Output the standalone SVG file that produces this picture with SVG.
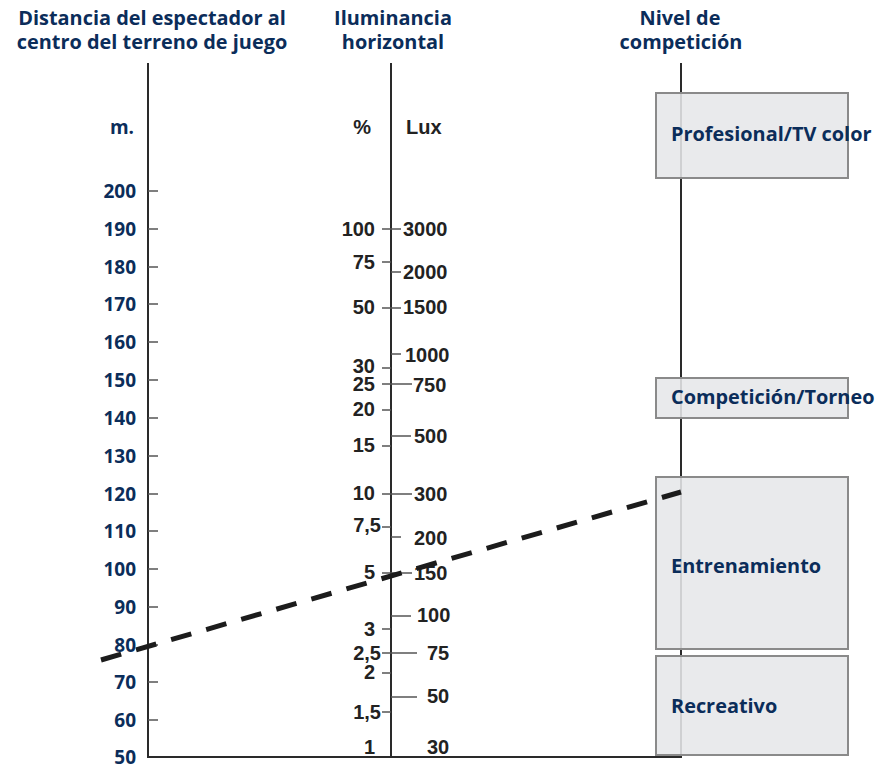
<svg xmlns="http://www.w3.org/2000/svg" width="882" height="769" viewBox="0 0 882 769">
<style>
.hd{font-family:"Open Sans","DejaVu Sans",sans-serif;font-weight:700;font-size:19.9px;fill:#0b2d5a;text-anchor:middle}
.ln{font-family:"Open Sans","DejaVu Sans",sans-serif;font-weight:700;font-size:19px;fill:#0b2d5a;text-anchor:end}
.mn{font-family:"Liberation Sans",Arial,sans-serif;font-weight:700;font-size:20px;fill:#222}
.pc{text-anchor:end}
.bx{fill:#e6e7e9;fill-opacity:0.88;stroke:#8a8a8a;stroke-width:2}
.bl{font-family:"Open Sans","DejaVu Sans",sans-serif;font-weight:700;font-size:19.9px;fill:#0b2d5a}
.ax{stroke:#2a2a2a;stroke-width:2;fill:none}
.tk{stroke:#555;stroke-width:1.5}
</style>
<g id="headers">
<text class="hd" x="152" y="25">Distancia del espectador al</text>
<text class="hd" x="152" y="49">centro del terreno de juego</text>
<text class="hd" x="393" y="25">Iluminancia</text>
<text class="hd" x="393" y="49">horizontal</text>
<text class="hd" x="680" y="25">Nivel de</text>
<text class="hd" x="681" y="49">competición</text>
</g>
<g id="axes">
<path class="ax" d="M148,63 V757 H681 V63 M391,63 V757"/>
</g>
<g id="left-scale">
<text class="ln" x="134" y="134">m.</text>
<g class="tk">
<line x1="148" y1="191" x2="158" y2="191"/><line x1="148" y1="229" x2="158" y2="229"/>
<line x1="148" y1="267" x2="158" y2="267"/><line x1="148" y1="304" x2="158" y2="304"/>
<line x1="148" y1="342" x2="158" y2="342"/><line x1="148" y1="380" x2="158" y2="380"/>
<line x1="148" y1="418" x2="158" y2="418"/><line x1="148" y1="456" x2="158" y2="456"/>
<line x1="148" y1="494" x2="158" y2="494"/><line x1="148" y1="531" x2="158" y2="531"/>
<line x1="148" y1="569" x2="158" y2="569"/><line x1="148" y1="607" x2="158" y2="607"/>
<line x1="148" y1="645" x2="158" y2="645"/><line x1="148" y1="682" x2="158" y2="682"/>
<line x1="148" y1="720" x2="158" y2="720"/>
</g>
<text class="ln" x="136" y="198">200</text>
<text class="ln" x="136" y="236">190</text>
<text class="ln" x="136" y="274">180</text>
<text class="ln" x="136" y="311">170</text>
<text class="ln" x="136" y="349">160</text>
<text class="ln" x="136" y="387">150</text>
<text class="ln" x="136" y="425">140</text>
<text class="ln" x="136" y="463">130</text>
<text class="ln" x="136" y="501">120</text>
<text class="ln" x="136" y="538">110</text>
<text class="ln" x="136" y="576">100</text>
<text class="ln" x="136" y="614">90</text>
<text class="ln" x="136" y="652">80</text>
<text class="ln" x="136" y="689">70</text>
<text class="ln" x="136" y="727">60</text>
<text class="ln" x="136" y="764">50</text>
</g>
<g id="middle-scale">
<g class="tk">
<line x1="382" y1="229" x2="401" y2="229"/>
<line x1="382" y1="262" x2="391" y2="262"/>
<line x1="391" y1="272" x2="401" y2="272"/>
<line x1="382" y1="308" x2="401" y2="308"/>
<line x1="391" y1="354" x2="401" y2="354"/>
<line x1="382" y1="368" x2="391" y2="368"/>
<line x1="382" y1="384" x2="412" y2="384"/>
<line x1="382" y1="410" x2="391" y2="410"/>
<line x1="391" y1="436" x2="411" y2="436"/>
<line x1="382" y1="446" x2="391" y2="446"/>
<line x1="382" y1="494" x2="412" y2="494"/>
<line x1="382" y1="527" x2="391" y2="527"/>
<line x1="391" y1="537" x2="401" y2="537"/>
<line x1="382" y1="573" x2="412" y2="573"/>
<line x1="391" y1="616" x2="411" y2="616"/>
<line x1="382" y1="629" x2="391" y2="629"/>
<line x1="382" y1="653" x2="417" y2="653"/>
<line x1="382" y1="673" x2="391" y2="673"/>
<line x1="391" y1="697" x2="417" y2="697"/>
<line x1="382" y1="712" x2="391" y2="712"/>
</g>
<text class="mn pc" x="371" y="134">%</text>
<text class="mn" x="406" y="134">Lux</text>
<text class="mn pc" x="375" y="236">100</text>
<text class="mn pc" x="375" y="269">75</text>
<text class="mn pc" x="375" y="314">50</text>
<text class="mn pc" x="375" y="373">30</text>
<text class="mn pc" x="375" y="391">25</text>
<text class="mn pc" x="375" y="416">20</text>
<text class="mn pc" x="375" y="452">15</text>
<text class="mn pc" x="375" y="500">10</text>
<text class="mn pc" x="381" y="532">7,5</text>
<text class="mn pc" x="375" y="579">5</text>
<text class="mn pc" x="375" y="636">3</text>
<text class="mn pc" x="381" y="660">2,5</text>
<text class="mn pc" x="375" y="679">2</text>
<text class="mn pc" x="381" y="719">1,5</text>
<text class="mn pc" x="375" y="754">1</text>
<text class="mn" x="403" y="236">3000</text>
<text class="mn" x="403" y="279">2000</text>
<text class="mn" x="403" y="314">1500</text>
<text class="mn" x="405" y="362">1000</text>
<text class="mn" x="413" y="392">750</text>
<text class="mn" x="414" y="443">500</text>
<text class="mn" x="414" y="501">300</text>
<text class="mn" x="414" y="545">200</text>
<text class="mn" x="414" y="580">150</text>
<text class="mn" x="417" y="622">100</text>
<text class="mn" x="427" y="660">75</text>
<text class="mn" x="427" y="703">50</text>
<text class="mn" x="427" y="754">30</text>
</g>
<g id="profesional">
<rect class="bx" x="656" y="93" width="192" height="85"/>
<text class="bl" x="671" y="141">Profesional/TV color</text>
</g>
<g id="competicion">
<rect class="bx" x="656" y="378" width="192" height="40"/>
<text class="bl" x="671" y="404">Competición/Torneo</text>
</g>
<g id="entrenamiento">
<rect class="bx" x="656" y="477" width="192" height="172"/>
<text class="bl" x="671" y="573">Entrenamiento</text>
</g>
<g id="recreativo">
<rect class="bx" x="656" y="656" width="192" height="99"/>
<text class="bl" x="671" y="713">Recreativo</text>
</g>
<g id="connectors">
<line x1="101" y1="660" x2="681" y2="492" stroke="#1c1c1c" stroke-width="5" stroke-dasharray="21 15.5"/>
</g>
</svg>
